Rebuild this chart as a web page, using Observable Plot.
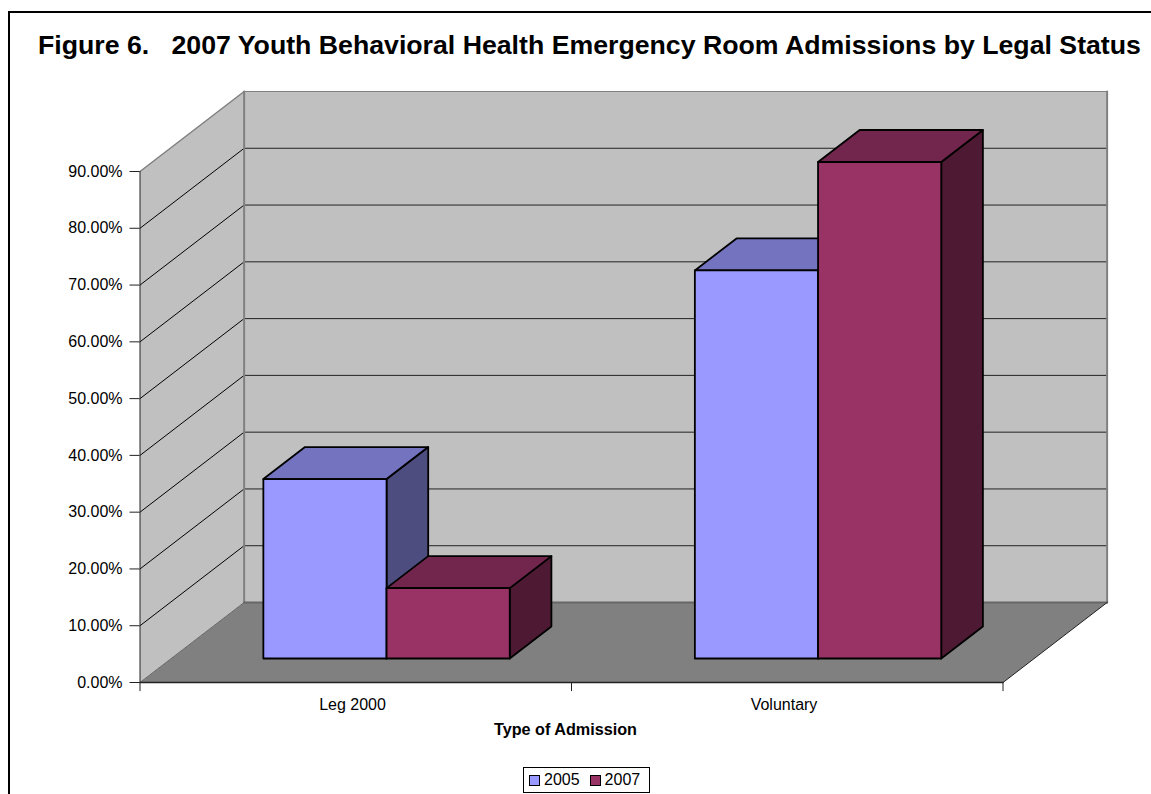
<!DOCTYPE html>
<html><head><meta charset="utf-8">
<script src="https://cdn.jsdelivr.net/npm/d3@7"></script>
<script src="https://cdn.jsdelivr.net/npm/@observablehq/plot@0.6"></script>
<style>
html,body{margin:0;padding:0;background:#fff;overflow:hidden}
#frame{position:relative;width:1151px;height:794px;font-family:"Liberation Sans",Arial,sans-serif;color:#000;overflow:hidden}
#frame svg{position:absolute;left:0;top:0}
#border{position:absolute;left:8px;top:11px;width:1151px;height:800px;border:2px solid #000;box-sizing:content-box}
#title{position:absolute;left:38px;top:32px;font-weight:bold;font-size:26.7px;white-space:pre;line-height:26px}
#xtitle{position:absolute;left:494px;top:718.5px;font-weight:bold;font-size:16.2px;line-height:20px;white-space:pre}
#legend{position:absolute;left:523px;top:767px;width:125px;height:24px;border:1px solid #000;display:flex;align-items:center;font-size:16px;background:#fff}
#legend i{display:inline-block;box-sizing:border-box;width:11px;height:11px;border:1px solid #000;margin:0 4px 0 10px}
#legend i:first-child{margin-left:5px}
</style></head><body>
<div id="frame"><div id="border"></div></div>
<script>
const categories = ["Leg 2000", "Voluntary"];
const series = ["2005", "2007"];
const values2005 = [31.6, 68.35];
const values2007 = [12.4, 87.45];
const yTicks = [0,10,20,30,40,50,60,70,80,90];
const frontColors = ["#9999FF", "#993366"];
const topColors = ["#7373BF", "#73264D"];
const sideColors = ["#4D4D80", "#4D1933"];
const barStart = [0.2135, 0.499];
const barWidth = 0.2855;
const depthX = 0.2413, depthY = 14.09; // one unit of chart depth, in x and y data units
const barDepth = [0.3, 0.7];

const P = (x, v, d) => ({x: x + d * depthX, y: v + d * depthY});
const poly = (pts, fill, stroke, strokeWidth) =>
  Plot.line([...pts, pts[0]], {x:"x", y:"y", fill, stroke, strokeWidth, curve:"linear"});
const seg = (a, b, stroke, strokeWidth) =>
  Plot.line([a, b], {x:"x", y:"y", stroke, strokeWidth});

const marks = [];
const wall = "#C0C0C0", floor = "#808080", edge = "#808080";
const yMax = 90;
// floor and walls
marks.push(poly([P(0,0,0),P(2,0,0),P(2,0,1),P(0,0,1)], floor, "none", 0));
marks.push(poly([P(0,0,1),P(2,0,1),P(2,yMax,1),P(0,yMax,1)], wall, "none", 0));
marks.push(poly([P(0,0,0),P(0,0,1),P(0,yMax,1),P(0,yMax,0)], wall, "none", 0));
// gridlines
for (const t of yTicks.slice(1)) {
  if (t < yMax) marks.push(seg(P(0,t,0), P(0,t,1), "#000", 1));
  marks.push(seg(P(0,t,1), P(2,t,1), t === yMax ? edge : "#222", 1));
}
// wall edges
marks.push(seg(P(0,yMax,0), P(0,yMax,1), edge, 1.5));
marks.push(seg(P(0,0,1), P(0,yMax,1), edge, 2));
marks.push(seg(P(2,0,1), P(2,yMax,1), edge, 2));
marks.push(seg(P(0,0,1), P(2,0,1), "#666", 2));
marks.push(seg(P(0,0,0), P(0,0,1), "#666", 1));
marks.push(seg(P(2,0,0), P(2,0,1), "#222", 1));
marks.push(seg(P(0,0,0), P(2,0,0), "#222", 1.5));
marks.push(seg(P(0,0,0), P(0,yMax,0), "#222", 1));
// bars
const [d0, d1] = barDepth;
categories.forEach((c, i) => {
  [values2005[i], values2007[i]].forEach((v, s) => {
    const xa = i + barStart[s], xb = xa + barWidth;
    marks.push(poly([P(xb,0,d0),P(xb,0,d1),P(xb,v,d1),P(xb,v,d0)], sideColors[s], "#000", 1.8));
    marks.push(poly([P(xa,v,d0),P(xb,v,d0),P(xb,v,d1),P(xa,v,d1)], topColors[s], "#000", 1.8));
    marks.push(poly([P(xa,0,d0),P(xb,0,d0),P(xb,v,d0),P(xa,v,d0)], frontColors[s], "#000", 1.8));
  });
});

const plot = Plot.plot({
  width: 1151, height: 794,
  style:{background:"transparent", fontFamily:'"Liberation Sans",Arial,sans-serif'},
  x:{domain:[0,2], range:[139.5,1002.5], axis:null},
  y:{domain:[0,yMax], range:[682,171], axis:null},
  marks:[
    ...marks,
    Plot.ruleY(yTicks, {y:d=>d, x1:-0.0232, x2:0, stroke:"#222"}),
    Plot.ruleX([0,1,2], {x:d=>d, y1:-1.6, y2:0, stroke:"#222"}),
    Plot.text(yTicks, {x:-0.0405, y:d=>d, text:d=>d.toFixed(2)+"%", textAnchor:"end", fontSize:16, fill:"#000"}),
    Plot.text(categories, {x:(d,i)=>i+0.4925, y:-3.9, text:d=>d, fontSize:16, fill:"#000"})
  ]
});
const frame = document.getElementById("frame");
frame.appendChild(plot);
const add=(id,html)=>{const e=document.createElement("div");e.id=id;e.innerHTML=html;frame.appendChild(e);};
add("title","Figure 6.   2007 Youth Behavioral Health Emergency Room Admissions by Legal Status");
add("xtitle","Type of Admission");
add("legend",series.map((s,i)=>`<i style="background:${frontColors[i]}"></i><span>${s}</span>`).join(""));
</script></body></html>
